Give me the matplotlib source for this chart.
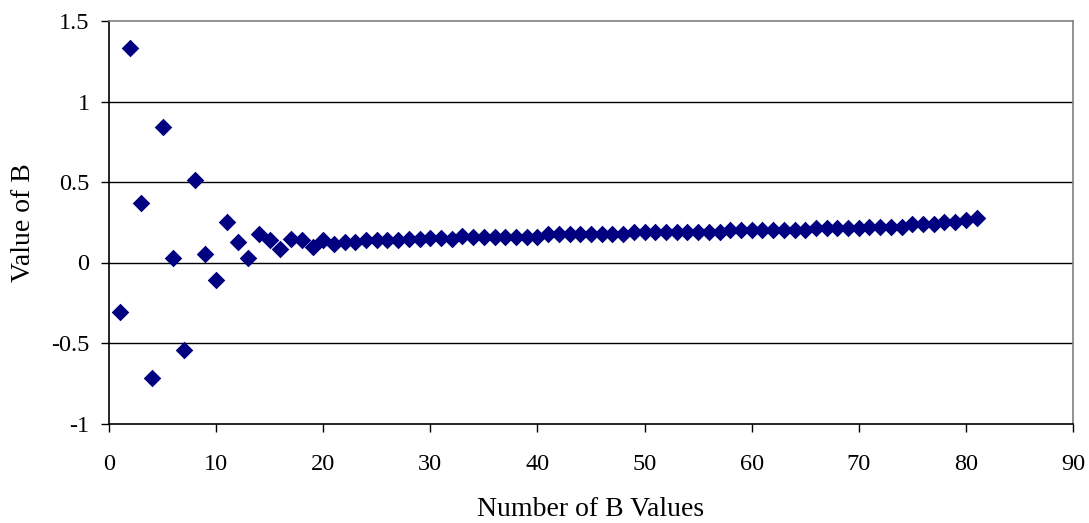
import matplotlib
matplotlib.use("Agg")
import matplotlib.pyplot as plt

x_values = list(range(1, 82))
b_values = [
    -0.307, 1.335, 0.37, -0.715, 0.84, 0.026, -0.545, 0.51, 0.053, -0.109,
    0.25, 0.125, 0.026, 0.175, 0.138, 0.086, 0.148, 0.138, 0.098, 0.14,
    0.113, 0.125, 0.13, 0.14, 0.137, 0.14, 0.137, 0.148, 0.148, 0.152,
    0.15, 0.148, 0.165, 0.16, 0.16, 0.158, 0.158, 0.158, 0.158, 0.16,
    0.177, 0.174, 0.175, 0.175, 0.177, 0.177, 0.177, 0.18, 0.19, 0.19,
    0.19, 0.187, 0.187, 0.187, 0.187, 0.19, 0.187, 0.202, 0.202, 0.202,
    0.202, 0.202, 0.202, 0.202, 0.202, 0.212, 0.212, 0.212, 0.212, 0.212,
    0.223, 0.223, 0.223, 0.223, 0.237, 0.237, 0.237, 0.25, 0.25, 0.262,
    0.274,
]
x_ticks = [0, 10, 20, 30, 40, 50, 60, 70, 80, 90]
y_ticks = [-1, -0.5, 0, 0.5, 1, 1.5]
y_tick_labels = ["-1", "-0.5", "0", "0.5", "1", "1.5"]

plt.rcParams['font.family'] = ['Liberation Serif', 'DejaVu Serif']

fig = plt.figure(figsize=(10.89, 5.23), dpi=100)
ax = fig.add_axes([109 / 1089, 1 - 423.5 / 523, (1073 - 109) / 1089, (423.5 - 21) / 523])

for yv in y_ticks:
    if yv in (-1, 1.5):
        continue
    ax.axhline(yv, color='black', lw=1.0, zorder=1)

ax.scatter(x_values, b_values, marker='D', s=80, color='#000080', zorder=3, linewidths=0)

ax.set_xlim(0, 90)
ax.set_ylim(-1, 1.5)
ax.set_xticks(x_ticks)
ax.set_yticks(y_ticks)
ax.set_yticklabels(y_tick_labels)
ax.tick_params(direction='out', length=6, width=1, labelsize=17.5, color='black')
ax.tick_params(axis='x', pad=16)
ax.tick_params(axis='y', pad=8)

ax.spines['left'].set_color('black')
ax.spines['bottom'].set_color('black')
ax.spines['top'].set_color('#808080')
ax.spines['right'].set_color('#808080')
for s in ax.spines.values():
    s.set_linewidth(1.2)

ax.set_xlabel("Number of B Values", fontsize=20, labelpad=16)
ax.set_ylabel("Value of B", fontsize=20, labelpad=11)

fig.savefig("out.png", dpi=100, facecolor='white')
